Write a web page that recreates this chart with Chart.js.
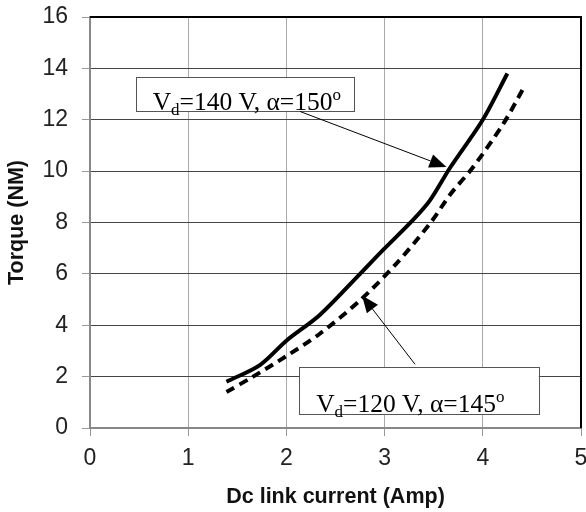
<!DOCTYPE html>
<html>
<head>
<meta charset="utf-8">
<script src="https://cdn.jsdelivr.net/npm/chart.js@4/dist/chart.umd.min.js"></script>
<style>
  html, body { margin: 0; padding: 0; background: #fff; }
  .chart-wrapper { width: 586px; height: 512px; }
</style>
</head>
<body>
<div class="chart-wrapper">
  <canvas id="chart" width="586" height="512"></canvas>
</div>
<script>
// Vd = 140 V, alpha = 150 (solid)
const current140 = [1.39, 1.73, 2.0, 2.34, 2.75, 2.99, 3.29, 3.46, 3.67, 4.0, 4.25];
const torque140 = [1.8, 2.45, 3.4, 4.4, 6.0, 6.95, 8.1, 8.85, 10.15, 12.0, 13.8];

// Vd = 120 V, alpha = 145 (dashed)
const current120 = [1.39, 1.66, 2.0, 2.34, 2.75, 3.12, 3.46, 3.67, 3.9, 4.21, 4.41];
const torque120 = [1.4, 2.0, 2.8, 3.67, 4.97, 6.4, 7.95, 9.1, 10.15, 11.85, 13.2];

const xTicks = [0, 1, 2, 3, 4, 5];
const yTicks = [0, 2, 4, 6, 8, 10, 12, 14, 16];

// callout labels, placed in data units (box corners, arrow tail -> head)
const labelParts140 = ["V", "d", "=140 V, \u03b1=150", "o"];
const labelParts120 = ["V", "d", "=120 V, \u03b1=145", "o"];
const box140 = { x0: 0.465, x1: 2.68, y0: 13.66, y1: 12.32 };
const box120 = { x0: 2.13, x1: 4.57, y0: 2.37, y1: 0.53 };
const arrow140 = { x0: 2.14, y0: 12.32, x1: 3.63, y1: 10.16 };
const arrow120 = { x0: 3.31, y0: 2.48, x1: 2.77, y1: 5.16 };

function toPoints(xs, ys) {
    return xs.map((x, i) => ({ x: x, y: ys[i] }));
}

const tickFont = { family: "'Liberation Sans', Arial, sans-serif", size: 23 };
const titleFont = { family: "'Liberation Sans', Arial, sans-serif", size: 21.5, weight: 'bold' };

function drawArrow(ctx, x0, y0, x1, y1) {
    const ang = Math.atan2(y1 - y0, x1 - x0);
    const len = 17, half = 7;
    const bx = x1 - len * Math.cos(ang), by = y1 - len * Math.sin(ang);
    ctx.beginPath();
    ctx.moveTo(x0, y0);
    ctx.lineTo(bx, by);
    ctx.strokeStyle = '#000';
    ctx.lineWidth = 1;
    ctx.stroke();
    ctx.beginPath();
    ctx.moveTo(x1, y1);
    ctx.lineTo(bx + half * Math.sin(ang), by - half * Math.cos(ang));
    ctx.lineTo(bx - half * Math.sin(ang), by + half * Math.cos(ang));
    ctx.closePath();
    ctx.fillStyle = '#000';
    ctx.fill();
}

function drawCallout(chart, box, parts) {
    const ctx = chart.ctx;
    const xs = chart.scales.x, ys = chart.scales.y;
    const left = xs.getPixelForValue(box.x0), right = xs.getPixelForValue(box.x1);
    const top = ys.getPixelForValue(box.y0), bottom = ys.getPixelForValue(box.y1);
    ctx.save();
    ctx.fillStyle = '#fff';
    ctx.fillRect(left, top, right - left, bottom - top);
    ctx.strokeStyle = '#555';
    ctx.lineWidth = 1;
    ctx.strokeRect(Math.round(left) + 0.5, Math.round(top) + 0.5, Math.round(right - left), Math.round(bottom - top));

    const big = "25.5px 'Liberation Serif', 'Times New Roman', serif";
    const small = "17px 'Liberation Serif', 'Times New Roman', serif";
    ctx.fillStyle = '#000';
    ctx.textBaseline = 'alphabetic';
    let x = left + 17;
    const base = bottom - 2;
    ctx.font = big; ctx.fillText(parts[0], x, base); x += ctx.measureText(parts[0]).width;
    ctx.font = small; ctx.fillText(parts[1], x, base + 5); x += ctx.measureText(parts[1]).width;
    ctx.font = big; ctx.fillText(parts[2], x, base); x += ctx.measureText(parts[2]).width;
    ctx.font = small; ctx.fillText(parts[3], x, base - 10);
    ctx.restore();
}

const calloutPlugin = {
    id: 'callouts',
    afterDatasetsDraw(chart) {
        const ctx = chart.ctx;
        const a = chart.chartArea;
        const xs = chart.scales.x, ys = chart.scales.y;
        // black frame on top and right
        ctx.save();
        ctx.strokeStyle = '#000';
        ctx.lineWidth = 2;
        ctx.beginPath();
        ctx.moveTo(a.left, a.top);
        ctx.lineTo(a.right, a.top);
        ctx.lineTo(a.right, a.bottom);
        ctx.stroke();
        ctx.restore();

        drawCallout(chart, box140, labelParts140);
        drawCallout(chart, box120, labelParts120);
        ctx.save();
        drawArrow(ctx, xs.getPixelForValue(arrow140.x0), ys.getPixelForValue(arrow140.y0),
            xs.getPixelForValue(arrow140.x1), ys.getPixelForValue(arrow140.y1));
        drawArrow(ctx, xs.getPixelForValue(arrow120.x0), ys.getPixelForValue(arrow120.y0),
            xs.getPixelForValue(arrow120.x1), ys.getPixelForValue(arrow120.y1));
        ctx.restore();
    }
};

const ctx = document.getElementById("chart").getContext("2d");
const myChart = new Chart(ctx, {
    type: "line",
    data: {
        datasets: [
            {
                label: "Vd=140 V",
                data: toPoints(current140, torque140),
                borderColor: "#000",
                borderWidth: 4,
                pointRadius: 0,
                tension: 0.3,
                fill: false,
            },
            {
                label: "Vd=120 V",
                data: toPoints(current120, torque120),
                borderColor: "#000",
                borderWidth: 4,
                borderDash: [9, 6],
                pointRadius: 0,
                tension: 0.3,
                fill: false,
            },
        ],
    },
    plugins: [calloutPlugin],
    options: {
        responsive: false,
        animation: false,
        layout: { padding: { left: 0, right: 5, top: 17, bottom: 0 } },
        plugins: {
            legend: { display: false },
            tooltip: { enabled: false },
        },
        scales: {
            x: {
                type: 'linear',
                min: 0,
                max: 5,
                afterBuildTicks: (scale) => { scale.ticks = xTicks.map(v => ({ value: v })); },
                afterFit: (scale) => {
                    scale.height = 84;
                    scale.paddingLeft = 0;
                    scale.paddingRight = 0;
                },
                ticks: { color: '#222', font: tickFont, padding: 9 },
                grid: { color: '#aaa', borderDash: [3, 2], tickColor: '#999', tickLength: 8, tickBorderDash: [] },
                border: { color: '#888', width: 2 },
                title: { display: true, text: 'Dc link current (Amp)', color: '#111', font: titleFont, padding: { top: 0, bottom: 2 } },
            },
            y: {
                min: 0,
                max: 16,
                afterBuildTicks: (scale) => { scale.ticks = yTicks.map(v => ({ value: v })); },
                afterFit: (scale) => {
                    scale.width = 90;
                    scale.paddingTop = 0;
                    scale.paddingBottom = 0;
                },
                ticks: { color: '#222', font: tickFont, padding: 14 },
                grid: { color: '#444', borderDash: [3, 2], tickColor: '#999', tickLength: 8, tickBorderDash: [] },
                border: { color: '#888', width: 2 },
                title: { display: true, text: 'Torque (NM)', color: '#111', font: titleFont, padding: { top: 4, bottom: 0 } },
            },
        },
    },
});
</script>
</body>
</html>
